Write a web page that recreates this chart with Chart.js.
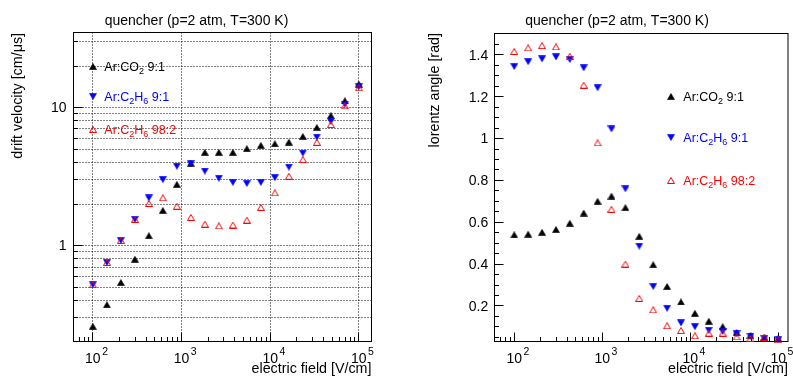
<!DOCTYPE html>
<html><head><meta charset="utf-8">
<script src="https://cdn.jsdelivr.net/npm/chart.js@4/dist/chart.umd.min.js"></script>
<style>
html,body{margin:0;padding:0;background:#fff;}
#wrap{position:relative;width:793px;height:381px;overflow:hidden;background:#fff;}
#c1{position:absolute;left:0;top:0;}
#c2{position:absolute;left:400px;top:0;}
</style></head><body>
<div id="wrap"><canvas id="c1" width="400" height="381"></canvas><canvas id="c2" width="393" height="381"></canvas></div>
<script>
// ---- data ----
const fieldVcm = [100, 144, 207, 298, 428, 616, 886, 1274, 1833, 2637, 3793, 5456, 7848, 11288, 16238, 23357, 33598, 48329, 69519, 100000];
const driftArCO2     = [0.26, 0.373, 0.541, 0.798, 1.18, 1.80, 2.78, 3.95, 4.74, 4.74, 4.74, 5.04, 5.32, 5.47, 5.62, 6.18, 7.18, 8.75, 11.2, 14.8];
const driftArC2H6_91 = [0.521, 0.755, 1.09, 1.55, 2.22, 3.01, 3.76, 3.93, 3.47, 3.08, 2.87, 2.82, 2.87, 3.11, 3.71, 4.68, 6.11, 7.96, 10.6, 14.2];
const driftArC2H6_982= [0.521, 0.755, 1.09, 1.55, 2.02, 2.22, 1.93, 1.60, 1.43, 1.39, 1.41, 1.53, 1.89, 2.41, 3.18, 4.20, 5.60, 7.54, 10.3, 13.9];
const lorentzArCO2     = [0.540, 0.543, 0.552, 0.565, 0.595, 0.644, 0.700, 0.725, 0.670, 0.533, 0.397, 0.293, 0.219, 0.165, 0.127, 0.101, 0.073, 0.059, 0.048, 0.043];
const lorentzArC2H6_91 = [1.344, 1.367, 1.381, 1.390, 1.378, 1.338, 1.243, 1.046, 0.760, 0.486, 0.293, 0.189, 0.119, 0.101, 0.084, 0.078, 0.067, 0.055, 0.044, 0.038];
const lorentzArC2H6_982= [1.416, 1.433, 1.444, 1.438, 1.393, 1.255, 0.979, 0.662, 0.400, 0.236, 0.181, 0.105, 0.082, 0.057, 0.070, 0.070, 0.052, 0.044, 0.050, 0.038];
const titleText = 'quencher (p=2 atm, T=300 K)';
const xTitle = 'electric field [V/cm]';
const yTitleLeft = 'drift velocity [cm/\u03bcs]';
const yTitleRight = 'lorentz angle [rad]';
const leftYLabels = [1, 10];
const rightYLabels = [0.2, 0.4, 0.6, 0.8, 1, 1.2, 1.4];
const xDecades = [2, 3, 4, 5];
// legend names as text runs (normal / subscript)
const nameArCO2 = [['Ar:CO',0],['2',1],[' 9:1',0]];
const nameArC2H6_91 = [['Ar:C',0],['2',1],['H',0],['6',1],[' 9:1',0]];
const nameArC2H6_982 = [['Ar:C',0],['2',1],['H',0],['6',1],[' 98:2',0]];

const FONT = '"Liberation Sans", Arial, Helvetica, sans-serif';
const BLACK = '#000000', BLUE = '#0000ff', RED = '#ff0000';

// ---- ROOT-like marker images ----
function marker(kind, color){
  const c = document.createElement('canvas');
  const w = 8, h = 7;
  c.width = w; c.height = h;
  const g = c.getContext('2d');
  g.beginPath();
  if (kind === 'up' || kind === 'openup') { g.moveTo(0.5, 6.5); g.lineTo(7.5, 6.5); g.lineTo(4, 0.5); }
  else { g.moveTo(0.5, 0.5); g.lineTo(7.5, 0.5); g.lineTo(4, 6.5); }
  g.closePath();
  if (kind === 'openup') { g.strokeStyle = color; g.lineWidth = 1; g.stroke(); }
  else { g.fillStyle = color; g.fill(); g.strokeStyle = color; g.lineWidth = 0.6; g.stroke(); }
  return c;
}
const mkBlack = marker('up', BLACK), mkBlue = marker('down', BLUE), mkRed = marker('openup', RED);

function pts(ys){ return fieldVcm.map((x,i)=>({x:x, y:ys[i]})); }
function ds(label, ys, img, order){
  return {label, data: pts(ys), pointStyle: img, pointRadius: 4, pointHoverRadius: 4, showLine:false, order, clip:false};
}

function runsWidth(ctx, runs, f, fs){
  let w = 0;
  for (const [t,s] of runs){ ctx.font = (s? fs: f) + 'px ' + FONT; w += ctx.measureText(t).width; }
  return w;
}
function drawRuns(ctx, runs, x, yBase, f, fs, color){
  ctx.fillStyle = color; ctx.textAlign = 'left'; ctx.textBaseline = 'alphabetic';
  for (const [t,s] of runs){
    ctx.font = (s? fs: f) + 'px ' + FONT;
    ctx.fillText(t, x, yBase + (s ? 3 : 0));
    x += ctx.measureText(t).width;
  }
}

function decor(opt){
  return {
    id: 'decor',
    beforeDatasetsDraw(chart){
      const ctx = chart.ctx, a = chart.chartArea, sx = chart.scales.x, sy = chart.scales.y;
      ctx.save();
      // grid
      ctx.strokeStyle = '#000'; ctx.lineWidth = 1; ctx.setLineDash([1,2]);
      if (opt.grid){
        for (const d of xDecades){
          const v = Math.pow(10,d); if (v < sx.min || v > sx.max) continue;
          const px = Math.floor(sx.getPixelForValue(v)) + 0.5;
          ctx.beginPath(); ctx.moveTo(px, a.top); ctx.lineTo(px, a.bottom); ctx.stroke();
        }
        for (let d = -1; d <= 1; d++) for (let m = 1; m <= 9; m++){
          const v = m*Math.pow(10,d); if (v <= sy.min || v >= sy.max) continue;
          const py = Math.floor(sy.getPixelForValue(v)) + 0.5;
          ctx.beginPath(); ctx.moveTo(a.left, py); ctx.lineTo(a.right, py); ctx.stroke();
        }
      }
      ctx.setLineDash([]);
      // frame
      ctx.strokeStyle = '#000'; ctx.lineWidth = 1;
      ctx.strokeRect(a.left, a.top, a.right - a.left, a.bottom - a.top);
      // x ticks (log)
      ctx.beginPath();
      for (let d = 1; d <= 5; d++) for (let m = 1; m <= 9; m++){
        const v = m*Math.pow(10,d); if (v < sx.min || v > sx.max) continue;
        const px = Math.floor(sx.getPixelForValue(v)) + 0.5;
        const L = m === 1 ? 9 : 4.5;
        ctx.moveTo(px, a.bottom); ctx.lineTo(px, a.bottom - L);
      }
      // y ticks
      if (opt.logY){
        for (let d = -1; d <= 1; d++) for (let m = 1; m <= 9; m++){
          const v = m*Math.pow(10,d); if (v < sy.min || v > sy.max) continue;
          const py = Math.floor(sy.getPixelForValue(v)) + 0.5;
          const L = m === 1 ? 9 : 4.5;
          ctx.moveTo(a.left, py); ctx.lineTo(a.left + L, py);
        }
      } else {
        for (let k = 1; k <= 30; k++){
          const v = k*0.05; if (v < sy.min || v > sy.max) continue;
          const py = Math.floor(sy.getPixelForValue(v)) + 0.5;
          const L = (k % 4 === 0) ? 9 : 4.5;
          ctx.moveTo(a.left, py); ctx.lineTo(a.left + L, py);
        }
      }
      ctx.stroke();
      // x labels 10^n
      ctx.fillStyle = '#000';
      for (const d of xDecades){
        const v = Math.pow(10,d);
        const px = sx.getPixelForValue(v);
        ctx.font = '14px ' + FONT; ctx.textAlign = 'center'; ctx.textBaseline = 'alphabetic';
        const w = ctx.measureText('10').width;
        ctx.fillText('10', px, 363);
        ctx.font = '10.5px ' + FONT; ctx.textAlign = 'left';
        ctx.fillText(String(d), px + w/2 + 1.5, 355);
      }
      // y labels
      ctx.font = '14px ' + FONT; ctx.textAlign = 'right'; ctx.textBaseline = 'middle';
      for (const v of opt.yLabels){
        ctx.fillText(String(v), opt.yLabelX, sy.getPixelForValue(v) + 1);
      }
      // titles
      ctx.font = '14px ' + FONT; ctx.textAlign = 'center'; ctx.textBaseline = 'alphabetic';
      ctx.fillText(titleText, opt.titleX, 25);
      ctx.font = '14.3px ' + FONT; ctx.textAlign = 'right';
      ctx.fillText(xTitle, a.right, 372.5);
      ctx.save();
      ctx.translate(opt.yTitleX, 33); ctx.rotate(-Math.PI/2);
      ctx.textAlign = 'right'; ctx.textBaseline = 'middle';
      ctx.fillText(opt.yTitle, 0, 0);
      ctx.restore();
      ctx.restore();
    },
    afterDatasetsDraw(chart){
      const ctx = chart.ctx;
      ctx.save();
      const items = [[mkBlack, nameArCO2, BLACK], [mkBlue, nameArC2H6_91, BLUE], [mkRed, nameArC2H6_982, RED]];
      items.forEach((it, i) => {
        const y = opt.legendY[i];
        ctx.drawImage(it[0], Math.round(opt.legendMX - 4), Math.round(y - 3.5));
        drawRuns(ctx, it[1], opt.legendTX, y + 4.5, 12.5, 9, it[2]);
      });
      ctx.restore();
    }
  };
}

function makeChart(id, series, yScale, pad, opt){
  return new Chart(document.getElementById(id), {
    type: 'scatter',
    data: { datasets: [
      ds('Ar:CO2 9:1', series[0], mkBlack, 2),
      ds('Ar:C2H6 9:1', series[1], mkBlue, 1),
      ds('Ar:C2H6 98:2', series[2], mkRed, 0)
    ]},
    options: {
      responsive: false, animation: false, devicePixelRatio: 1,
      layout: { padding: pad },
      plugins: { legend: {display:false}, tooltip: {enabled:false}, title:{display:false} },
      events: [],
      scales: {
        x: { type: 'logarithmic', min: opt.xMin, max: opt.xMax, display: false },
        y: yScale
      }
    },
    plugins: [decor(opt)]
  });
}

makeChart('c1', [driftArCO2, driftArC2H6_91, driftArC2H6_982],
  { type: 'logarithmic', min: 0.202, max: 35.0, display: false },
  { left: 73.5, right: 28.5, top: 32.5, bottom: 39.5 },
  { xMin: 60.5, xMax: 139000, grid: true, logY: true, yLabels: leftYLabels, yLabelX: 66.5,
    titleX: 196.5, yTitle: yTitleLeft, yTitleX: 18.5,
    legendMX: 92.7, legendTX: 104.3, legendY: [66.7, 96.5, 129] });

makeChart('c2', [lorentzArCO2, lorentzArC2H6_91, lorentzArC2H6_982],
  { type: 'linear', min: 0.03, max: 1.502, display: false },
  { left: 94.5, right: 1.5, top: 33.5, bottom: 39.5 },
  { xMin: 59.7, xMax: 129000, grid: false, logY: false, yLabels: rightYLabels, yLabelX: 88.3,
    titleX: 217, yTitle: yTitleRight, yTitleX: 35,
    legendMX: 271, legendTX: 283.3, legendY: [96.7, 137.5, 180.5] });
</script>
</body></html>
